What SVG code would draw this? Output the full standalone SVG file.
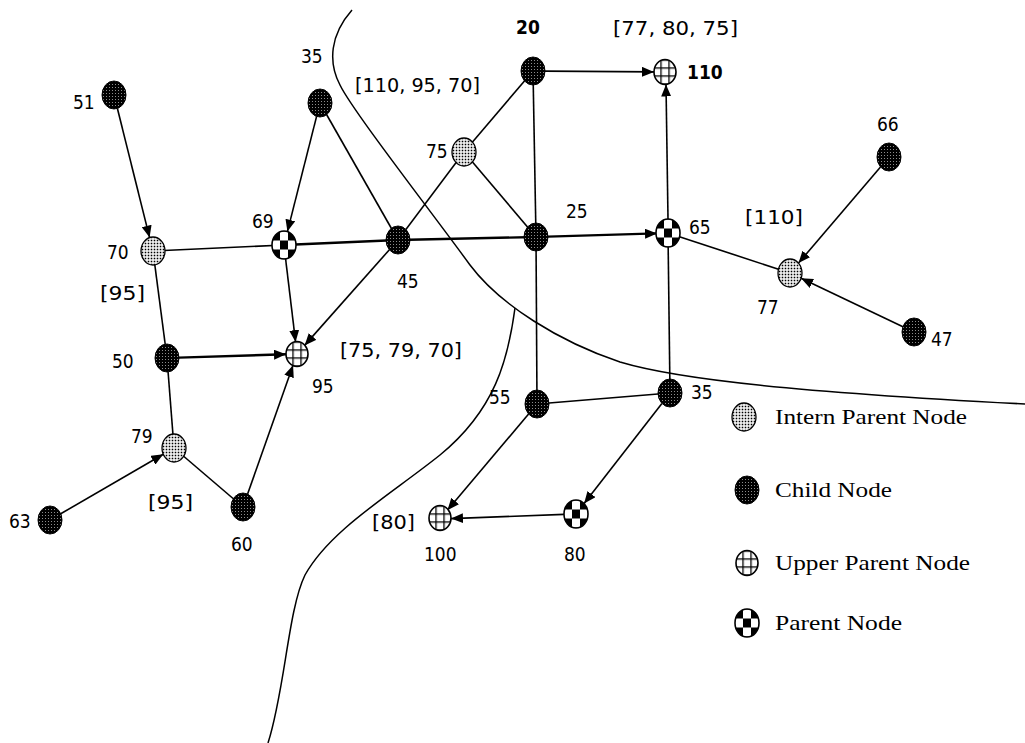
<svg xmlns="http://www.w3.org/2000/svg" xmlns:xlink="http://www.w3.org/1999/xlink" width="1025" height="743" viewBox="0 0 1025 743">
<style>
.edge{stroke:#000;stroke-width:1.6;fill:none}
.thick{stroke-width:2.4}
.arr{marker-end:url(#ah)}
.curve{stroke:#000;stroke-width:1.5;fill:none}
.lbl{font-family:"DejaVu Sans Condensed","DejaVu Sans",sans-serif;font-size:19px;fill:#000}
.b{font-weight:bold}
.br{font-family:"DejaVu Sans Condensed","DejaVu Sans",sans-serif;font-size:20px;font-weight:300;fill:#000}
.leg{font-family:"Liberation Serif","DejaVu Serif",serif;font-size:22px;fill:#000}
</style>
<defs>
<marker id="ah" viewBox="0 0 12 10" refX="12" refY="5" markerWidth="12" markerHeight="10" markerUnits="userSpaceOnUse" orient="auto">
<path d="M0,0 L12,5 L0,10 z" fill="#000"/>
</marker>
<pattern id="pChild" x="0" y="0" width="3" height="3" patternUnits="userSpaceOnUse">
<rect width="3" height="3" fill="#000"/>
<rect x="1" y="1" width="1" height="1" fill="#fff" opacity="0.55"/>
</pattern>
<pattern id="pIntern" x="0" y="0" width="3" height="3" patternUnits="userSpaceOnUse">
<rect width="3" height="3" fill="#fff"/>
<rect x="0.7" y="0.7" width="1.6" height="1.6" fill="#000"/>
</pattern>
<pattern id="pGrid" x="-4.65" y="-4.65" width="8" height="8" patternUnits="userSpaceOnUse">
<rect width="8" height="8" fill="#fff"/>
<rect width="1.3" height="8" fill="#000"/>
<rect width="8" height="1.3" fill="#000"/>
</pattern>
<pattern id="pCheck" x="-4" y="-4.5" width="16" height="18" patternUnits="userSpaceOnUse">
<rect width="16" height="18" fill="#fff"/>
<rect width="8" height="9" fill="#000"/>
<rect x="8" y="9" width="8" height="9" fill="#000"/>
</pattern>
<g id="child"><ellipse rx="12" ry="14" fill="url(#pChild)" stroke="#000" stroke-width="1"/></g>
<g id="intern"><ellipse rx="12" ry="14" fill="url(#pIntern)" stroke="#000" stroke-width="1.3"/></g>
<g id="upper"><ellipse rx="11" ry="12.5" fill="url(#pGrid)" stroke="#000" stroke-width="1.6"/></g>
<g id="parent"><ellipse rx="12" ry="14" fill="url(#pCheck)" stroke="#000" stroke-width="1.6"/></g>
</defs>
<rect width="1025" height="743" fill="#fff"/>

<g id="boundaries">
<path class="curve" d="M352,10 C330,35 328,62 340,85 C352,110 430,210 470,265 C500,305 560,342 620,362 C680,380 800,392 1025,404"/>
<path class="curve" d="M515,308 C508,360 495,410 440,455 C390,495 330,530 305,575 C288,610 285,690 268,743"/>
</g>

<g id="connectors">
<line class="edge" x1="320" y1="103" x2="398" y2="240"/>
<line class="edge" x1="153" y1="251" x2="284" y2="245"/>
<line class="edge thick" x1="284" y1="245" x2="398" y2="240"/>
<line class="edge thick" x1="398" y1="240" x2="536" y2="237"/>
<line class="edge" x1="153" y1="251" x2="167" y2="358"/>
<line class="edge" x1="167" y1="358" x2="174" y2="448"/>
<line class="edge" x1="174" y1="448" x2="243" y2="507"/>
<line class="edge" x1="398" y1="240" x2="464" y2="152"/>
<line class="edge" x1="464" y1="152" x2="533" y2="71"/>
<line class="edge" x1="464" y1="152" x2="536" y2="237"/>
<line class="edge" x1="533" y1="71" x2="536" y2="237"/>
<line class="edge" x1="668" y1="233" x2="670" y2="393"/>
<line class="edge" x1="790" y1="273" x2="668" y2="233"/>
<line class="edge" x1="536" y1="237" x2="537" y2="404"/>
<line class="edge" x1="537" y1="404" x2="670" y2="393"/>
<line class="edge arr" x1="117.4" y1="108.5" x2="149.6" y2="237.6"/>
<line class="edge arr" x1="316.6" y1="116.4" x2="287.4" y2="231.6"/>
<line class="edge arr" x1="285.6" y1="258.8" x2="295.6" y2="342.1"/>
<line class="edge arr" x1="389.4" y1="249.7" x2="304.6" y2="345.4"/>
<line class="edge arr thick" x1="179" y1="357.6" x2="286" y2="354.3"/>
<line class="edge arr" x1="247.6" y1="494.1" x2="293.05" y2="365.2"/>
<line class="edge arr" x1="60.7" y1="513.8" x2="163.3" y2="454.2"/>
<line class="edge arr" x1="545" y1="71.1" x2="654" y2="71.9"/>
<line class="edge arr thick" x1="548" y1="236.6" x2="657" y2="233.4"/>
<line class="edge arr" x1="668" y1="219" x2="666" y2="84.5"/>
<line class="edge arr" x1="880.5" y1="166.9" x2="798.5" y2="263.1"/>
<line class="edge arr" x1="902.9" y1="326.7" x2="801.1" y2="278.3"/>
<line class="edge arr" x1="528.6" y1="414" x2="447.4" y2="510.2"/>
<line class="edge arr" x1="661.9" y1="403.4" x2="584.1" y2="503.6"/>
<line class="edge arr" x1="564" y1="514.4" x2="451" y2="518.6"/>
</g>

<g id="node-51"><use xlink:href="#child" x="114" y="95"/><text class="lbl" x="73" y="109">51</text></g>
<g id="node-35a"><use xlink:href="#child" x="320" y="103"/><text class="lbl" x="301" y="63">35</text></g>
<g id="node-70"><use xlink:href="#intern" x="153" y="251"/><text class="lbl" x="107" y="259">70</text><text class="br" x="100" y="300" textLength="45" lengthAdjust="spacingAndGlyphs">[95]</text></g>
<g id="node-69"><use xlink:href="#parent" x="284" y="245"/><text class="lbl" x="252" y="228">69</text></g>
<g id="node-45"><use xlink:href="#child" x="398" y="240"/><text class="lbl" x="397" y="288">45</text></g>
<g id="node-25"><use xlink:href="#child" x="536" y="237"/><text class="lbl" x="566" y="218">25</text></g>
<g id="node-65"><use xlink:href="#parent" x="668" y="233"/><text class="lbl" x="689" y="234">65</text></g>
<g id="node-20"><use xlink:href="#child" x="533" y="71"/><text class="lbl b" x="516" y="34">20</text></g>
<g id="node-110"><use xlink:href="#upper" x="665" y="72"/><text class="lbl b" x="687" y="79">110</text><text class="br" x="613" y="35" textLength="125" lengthAdjust="spacingAndGlyphs">[77, 80, 75]</text></g>
<g id="node-75"><use xlink:href="#intern" x="464" y="152"/><text class="lbl" x="426" y="158" font-size="17">75</text><text class="br" x="355" y="92" textLength="125" lengthAdjust="spacingAndGlyphs">[110, 95, 70]</text></g>
<g id="node-66"><use xlink:href="#child" x="889" y="157"/><text class="lbl" x="877" y="131">66</text></g>
<g id="node-77"><use xlink:href="#intern" x="790" y="273"/><text class="lbl" x="757" y="314">77</text><text class="br" x="745" y="224" textLength="58" lengthAdjust="spacingAndGlyphs">[110]</text></g>
<g id="node-47"><use xlink:href="#child" x="914" y="332"/><text class="lbl" x="931" y="346">47</text></g>
<g id="node-50"><use xlink:href="#child" x="167" y="358"/><text class="lbl" x="112" y="368">50</text></g>
<g id="node-95"><use xlink:href="#upper" x="297" y="354"/><text class="lbl" x="312" y="393">95</text><text class="br" x="340" y="357" textLength="122" lengthAdjust="spacingAndGlyphs">[75, 79, 70]</text></g>
<g id="node-79"><use xlink:href="#intern" x="174" y="448"/><text class="lbl" x="131" y="443">79</text><text class="br" x="148" y="509" textLength="45" lengthAdjust="spacingAndGlyphs">[95]</text></g>
<g id="node-63"><use xlink:href="#child" x="50" y="520"/><text class="lbl" x="9" y="528">63</text></g>
<g id="node-60"><use xlink:href="#child" x="243" y="507"/><text class="lbl" x="231" y="551">60</text></g>
<g id="node-55"><use xlink:href="#child" x="537" y="404"/><text class="lbl" x="489" y="404">55</text></g>
<g id="node-35b"><use xlink:href="#child" x="670" y="393"/><text class="lbl" x="691" y="399">35</text></g>
<g id="node-80"><use xlink:href="#parent" x="576" y="514"/><text class="lbl" x="564" y="561">80</text></g>
<g id="node-100"><use xlink:href="#upper" x="440" y="518"/><text class="lbl" x="424" y="561">100</text><text class="br" x="372" y="529" textLength="43" lengthAdjust="spacingAndGlyphs">[80]</text></g>

<g id="legend">
<use xlink:href="#intern" x="744" y="417"/>
<text class="leg" x="775" y="424" textLength="192" lengthAdjust="spacingAndGlyphs">Intern Parent Node</text>
<use xlink:href="#child" x="747" y="490"/>
<text class="leg" x="775" y="497" textLength="117" lengthAdjust="spacingAndGlyphs">Child Node</text>
<use xlink:href="#upper" x="747" y="563"/>
<text class="leg" x="775" y="570" textLength="195" lengthAdjust="spacingAndGlyphs">Upper Parent Node</text>
<use xlink:href="#parent" x="747" y="623"/>
<text class="leg" x="775" y="630" textLength="127" lengthAdjust="spacingAndGlyphs">Parent Node</text>
</g>
</svg>
